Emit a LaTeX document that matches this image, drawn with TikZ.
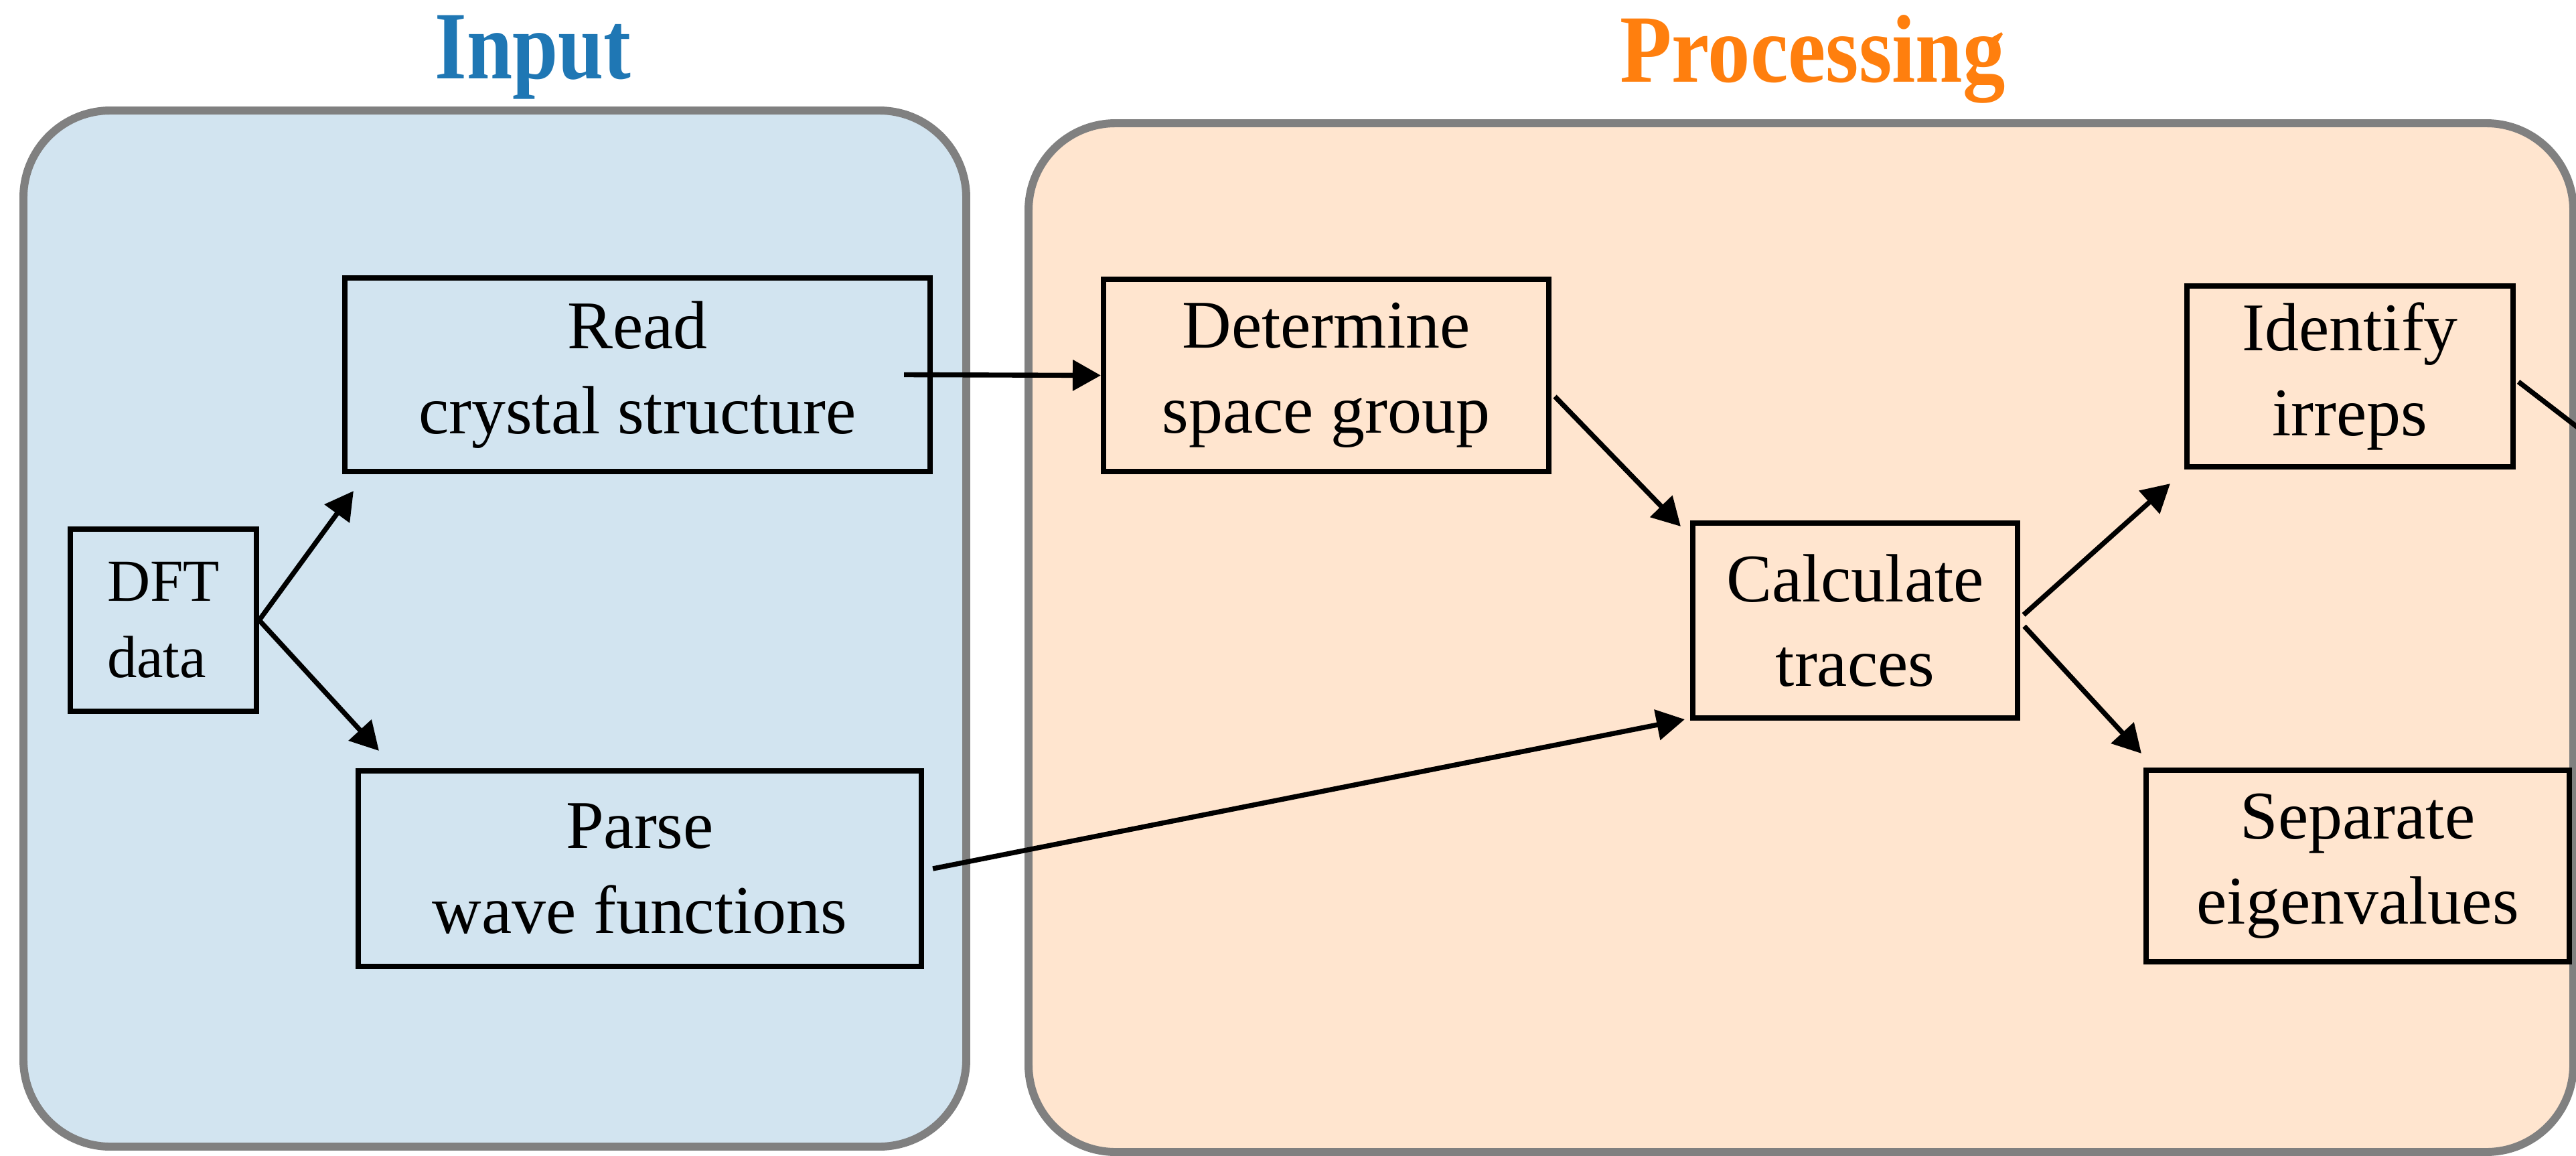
\documentclass[tikz,border=0pt]{standalone}
\usepackage{fontspec}
\setmainfont{Liberation Serif}
\usetikzlibrary{arrows.meta,calc}
\definecolor{inblue}{RGB}{31,119,180}
\definecolor{procorange}{RGB}{255,127,14}
\definecolor{inputfill}{RGB}{210,228,240}
\definecolor{procfill}{RGB}{255,229,207}
\definecolor{panelgray}{RGB}{128,128,128}
\begin{document}
\begin{tikzpicture}[x=1cm,y=1cm,
  panel/.style={draw=panelgray, line width=3.4pt, rounded corners=1.3cm},
  stepbox/.style={draw=black, line width=2.3pt, align=center, inner sep=0pt,
    font=\fontsize{29}{36}\selectfont},
  smallbox/.style={draw=black, line width=2.3pt, align=left, inner sep=0pt,
    font=\fontsize{25.3}{32.3}\selectfont},
  conn/.style={line width=2.1pt, -{Triangle[length=0.42cm,width=0.45cm]}},
  plainconn/.style={line width=2.1pt},
  title/.style={anchor=base, font=\fontsize{41}{49}\selectfont\bfseries}
]
\useasboundingbox (0,0) rectangle (38.47,-17.26);
\clip (0,0) rectangle (38.47,-17.26);
\fill[white] (0,0) rectangle (38.47,-17.26);

% panels
\draw[panel, fill=inputfill] (0.35,-1.65) rectangle (14.43,-17.12);
\draw[panel, fill=procfill] (15.36,-1.84) rectangle (38.43,-17.20);

% titles
\node[title, text=inblue] (tin) at (7.96,-1.17) {\scalebox{0.85}[1]{Input}};
\node[title, text=procorange] (tproc) at (27.07,-1.22) {\scalebox{0.88}[1]{Processing}};

% boxes
\node[smallbox, minimum width=2.78cm, minimum height=2.72cm] (dft) at (2.44,-9.26) {DFT\\data};
\node[stepbox, minimum width=8.74cm, minimum height=2.89cm] (read) at (9.52,-5.595) {Read\\crystal structure};
\node[stepbox, minimum width=8.41cm, minimum height=2.92cm] (parse) at (9.555,-12.97) {Parse\\wave functions};
\node[stepbox, minimum width=6.65cm, minimum height=2.87cm] (det) at (19.805,-5.605) {Determine\\space group};
\node[stepbox, minimum width=4.85cm, minimum height=2.91cm] (calc) at (27.705,-9.265) {Calculate\\traces};
\node[stepbox, minimum width=4.87cm, minimum height=2.70cm] (ident) at (35.095,-5.62) {Identify\\irreps};
\node[stepbox, minimum width=6.32cm, minimum height=2.86cm] (sep) at (35.21,-12.93) {Separate\\eigenvalues};

\coordinate (offR) at (39.57,-7.21);

% connectors
\draw[conn] (dft.east) -- ($(read.south west)+(0.17,-0.25)$);
\draw[conn] (dft.east) -- ($(parse.north west)+(0.35,0.26)$);
\draw[conn] ($(read.east)+(-0.43,0)$) -- (det.west);
\draw[conn] ($(det.east)+(0.05,-0.315)$) -- ($(calc.north west)+(-0.14,-0.09)$);
\draw[conn] ($(parse.east)+(0.13,0)$) -- ($(calc.south west)+(-0.08,0.02)$);
\draw[conn] ($(calc.east)+(0.05,0.085)$) -- ($(ident.south west)+(-0.21,-0.21)$);
\draw[conn] ($(calc.east)+(0.06,-0.085)$) -- ($(sep.north west)+(-0.03,0.21)$);
\draw[plainconn] ($(ident.east)+(0.04,-0.08)$) -- (offR);
\end{tikzpicture}
\end{document}
